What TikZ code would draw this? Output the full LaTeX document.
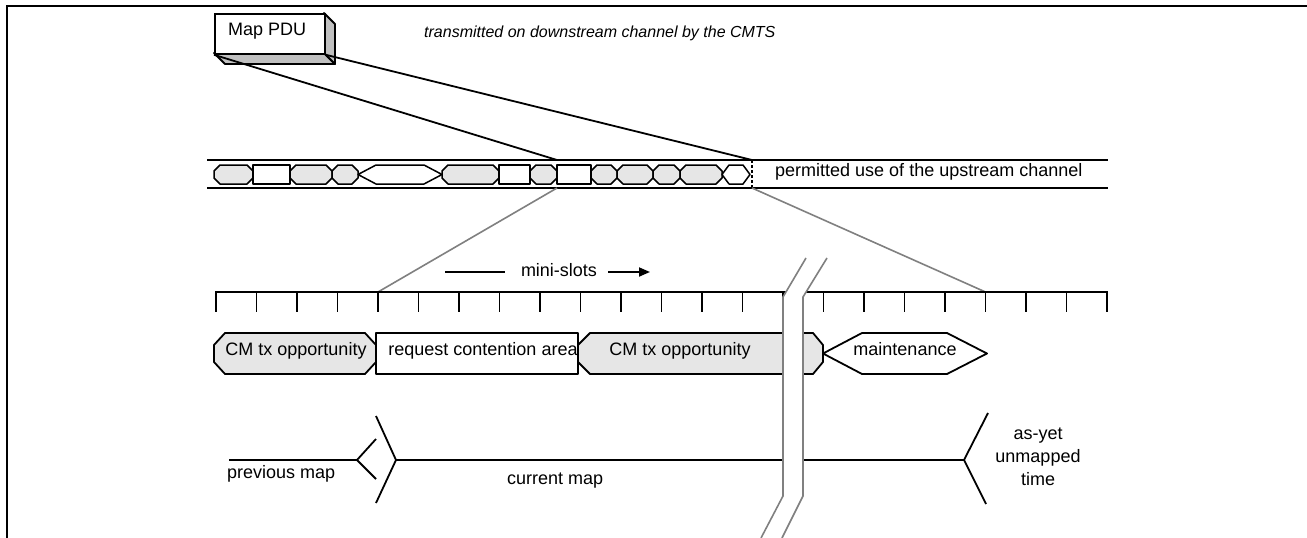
\documentclass[tikz,border=0pt]{standalone}
\usepackage{fontspec}
\setmainfont{Liberation Sans}
\usetikzlibrary{arrows.meta}
\definecolor{slotgray}{HTML}{E6E6E6}
\definecolor{sidegray}{HTML}{C0C0C0}
\definecolor{mapgray}{HTML}{808080}
\newcommand{\chGray}[2]{\filldraw[slotln, fill=slotgray] (#1+6,165) -- (#2-6,165) -- (#2,171) -- (#2,178) -- (#2-6,184) -- (#1+6,184) -- (#1,178) -- (#1,171) -- cycle;}
\newcommand{\chWhite}[2]{\filldraw[slotln, fill=white] (#1,165) rectangle (#2,184);}
\newcommand{\chHex}[3]{\filldraw[slotln, fill=white] (#1,174.5) -- (#1+#3,165) -- (#2-#3,165) -- (#2,174.5) -- (#2-#3,184) -- (#1+#3,184) -- cycle;}
\newcommand{\bigOct}[4]{(#1+#3,333) -- (#2-#4,333) -- (#2,345) -- (#2,362) -- (#2-#4,374) -- (#1+#3,374) -- (#1,362) -- (#1,345) -- cycle}
\begin{document}
\begin{tikzpicture}[x=1pt,y=-1pt,
  ln/.style={line width=1.8pt},
  slotln/.style={line width=1.5pt, line join=round},
  boxln/.style={line width=1.8pt, line join=round},
  grayln/.style={draw=mapgray, line width=1.6pt},
  txt/.style={font=\fontsize{18}{22}\selectfont, inner sep=0pt, anchor=base west},
  ctxt/.style={font=\fontsize{18}{22}\selectfont, inner sep=0pt, anchor=base},
]
\useasboundingbox (0,0) rectangle (1307,538);
\fill[white] (0,0) rectangle (1307,538);
% frame
\draw[line width=2.4pt] (7,538) -- (7,6) -- (1307,6);

% key coordinates
\coordinate (chTL) at (557,160);
\coordinate (chTR) at (752,160);
\coordinate (chBL) at (557,188);
\coordinate (chBR) at (752,188);
\coordinate (tickL) at (378,292);
\coordinate (tickR) at (985.5,292);

% upstream channel
\draw[ln] (207,160) -- (1108,160);
\draw[ln] (207,188) -- (1108,188);
\chGray{214}{253}
\chWhite{253}{290}
\chGray{290}{332}
\chGray{332}{358}
\chHex{358}{442}{18}
\chGray{442}{499}
\chWhite{499}{530}
\chGray{530}{557}
\chWhite{557}{591}
\chGray{591}{617}
\chGray{617}{653}
\chGray{653}{680}
\chGray{680}{722}
\chHex{722}{750}{7}
\draw[line width=1.5pt, dash pattern=on 3pt off 2pt] (chTR) -- (chBR);
\node[txt] (perm) at (775,176) {permitted use of the upstream channel};

% Map PDU
\filldraw[boxln, fill=sidegray] (214,53) -- (225,64) -- (335,64) -- (324,53) -- cycle;
\filldraw[boxln, fill=sidegray] (324,13) -- (335,24) -- (335,64) -- (324,53) -- cycle;
\node[draw, ln, fill=white, anchor=north west, minimum width=110pt, minimum height=40pt, inner sep=0pt] (pdu) at (214,13) {};
\node[txt] (pdut) at (228,35) {Map PDU};
\node[txt, font=\fontsize{16}{20}\selectfont\itshape] (down) at (424,37) {transmitted on downstream channel by the CMTS};
\draw[ln] (pdu.south west) -- (chTL);
\draw[ln] (pdu.south east) -- (chTR);

% zoom lines
\draw[grayln] (chBL) -- (tickL);
\draw[grayln] (chBR) -- (tickR);

% mini-slots
\coordinate (ms1) at (445,272);
\coordinate (ms2) at (505,272);
\coordinate (ms3) at (608,272);
\coordinate (ms4) at (650,272);
\draw[ln] (ms1) -- (ms2);
\node[ctxt] (mslots) at (559,276) {mini-slots};
\draw[ln, -{Triangle[length=11pt,width=9pt]}] (ms3) -- (ms4);

% tick line
\draw[ln] (216,292) -- (1107,292);
\foreach \k in {0,...,22} {
  \draw[ln] (216+40.5*\k,291) -- (216+40.5*\k,312);
}

% boxes
\filldraw[boxln, fill=slotgray] \bigOct{214}{376}{11}{11};
\filldraw[boxln, fill=white] (376,333) rectangle (578,374);
\filldraw[boxln, fill=slotgray] \bigOct{578}{823}{12}{10};
\filldraw[boxln, fill=white] (823,353.5) -- (862,333) -- (947,333) -- (987,353.5) -- (947,374) -- (862,374) -- cycle;
\node[ctxt] (cm1) at (296,355) {CM tx opportunity};
\node[ctxt] (rca) at (483,355) {request contention area};
\node[ctxt] (cm2) at (680,355) {CM tx opportunity};
\node[ctxt] (maint) at (905,355) {maintenance};

% map lines
\coordinate (pmL) at (229,460);
\coordinate (pmV) at (357,460);
\coordinate (cmV) at (396,460);
\coordinate (nmV) at (964,460);
\draw[ln] (pmL) -- (pmV);
\draw[ln] (376,439) -- (pmV) -- (376,479);
\draw[ln] (376,416) -- (cmV) -- (376,503);
\draw[ln] (cmV) -- (nmV);
\draw[ln] (988,413) -- (nmV) -- (986,504);
\node[txt] (prev) at (227,478) {previous map};
\node[txt] (curr) at (507,484) {current map};
\node[ctxt] (ay1) at (1038,439) {as-yet};
\node[ctxt] (ay2) at (1038,462) {unmapped};
\node[ctxt] (ay3) at (1038,485) {time};

% break
\fill[white] (806,258) -- (783,297) -- (783,496) -- (761,538) -- (782,538) -- (803,496) -- (803,297) -- (827,258) -- cycle;
\draw[grayln] (806,258) -- (783,297) -- (783,496) -- (761,538);
\draw[grayln] (827,258) -- (803,297) -- (803,496) -- (782,538);
\end{tikzpicture}
\end{document}
